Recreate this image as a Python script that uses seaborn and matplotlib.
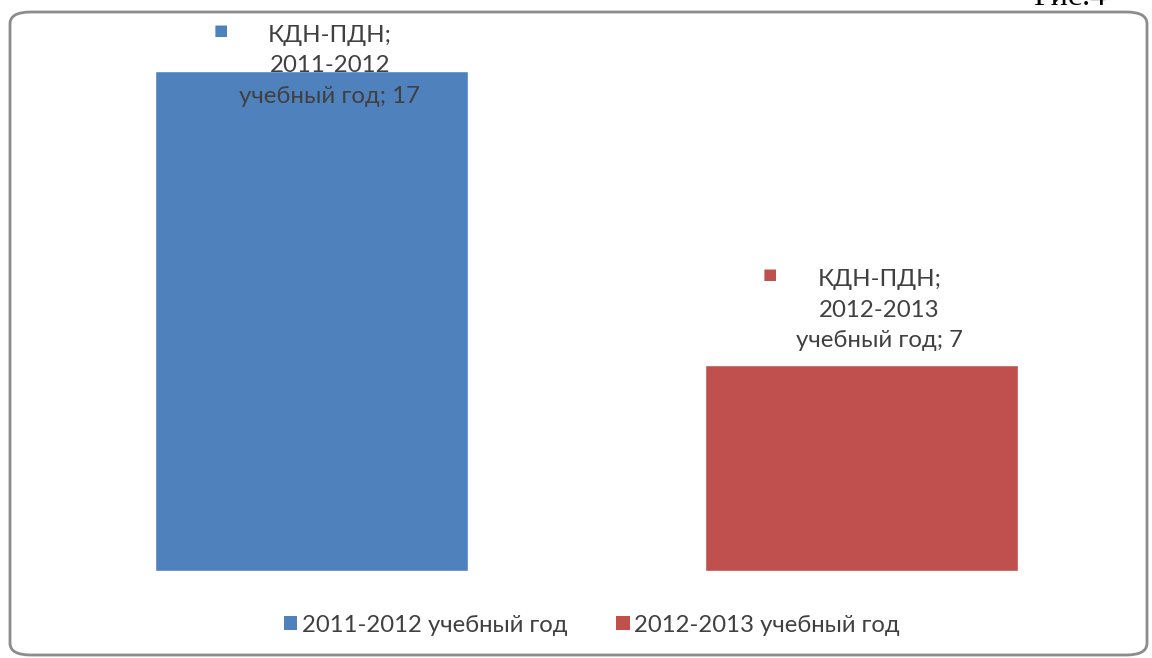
import matplotlib
matplotlib.use("Agg")
import matplotlib.pyplot as plt
import seaborn as sns
import pandas as pd
from matplotlib.patches import FancyBboxPatch, Patch

# Data
series_name = "КДН-ПДН"
categories = ["2011-2012 учебный год", "2012-2013 учебный год"]
values = [17, 7]
colors = ["#4F81BD", "#C0504D"]

df = pd.DataFrame({"year": categories, "value": values})

sns.set_theme(style="white")
plt.rcParams["font.family"] = ["Lato", "DejaVu Sans"]

W, H = 1152, 658
fig = plt.figure(figsize=(W / 100, H / 100), dpi=100)
fig.patch.set_facecolor("white")

# rounded chart frame
frame = FancyBboxPatch((10 / W, 1 - 655 / H), 1137 / W, 643 / H,
                       boxstyle="round,pad=0,rounding_size=0.018",
                       transform=fig.transFigure, facecolor="none",
                       edgecolor="#8c8c8c", linewidth=2, zorder=-1)
fig.patches.append(frame)

ax = fig.add_axes([37 / W, 1 - 571 / H, 1099 / W, 500 / H])
ax.set_facecolor("none")
sns.barplot(data=df, x="year", y="value", hue="year", palette=colors,
            width=0.57, dodge=False, legend=False, saturation=1, ax=ax)
ax.set_ylim(0, 17)
ax.set_xlim(-0.5, 1.5)
ax.axis("off")

# data labels with legend keys (offsets in pixels)
label_dy = [5, 55]
for i, (cat, val) in enumerate(zip(categories, values)):
    year = cat.split(" ")[0]
    txt = f"{series_name};\n{year}\nучебный год; {val}"
    ax.annotate(txt, xy=(i, val), xytext=(18, label_dy[i]), textcoords="offset pixels",
                ha="center", va="center", fontsize=17.3, color="#404040",
                linespacing=1.58, annotation_clip=False, zorder=5)
    ax.annotate("■", xy=(i, val), xytext=(-91, label_dy[i] + 35), textcoords="offset pixels",
                ha="center", va="center", fontsize=11, color=colors[i],
                annotation_clip=False, zorder=5)

handles = [Patch(facecolor=c, edgecolor="none") for c in colors]
fig.legend(handles, categories, loc="center", bbox_to_anchor=(592 / W, 1 - 625 / H),
           ncol=2, frameon=False, fontsize=17.2, handlelength=0.55, handleheight=0.55,
           handletextpad=0.2, columnspacing=2.05, labelcolor="#404040")

# figure caption, cut off at the top edge as in the source
fig.text(1106 / W, 1 - 5 / H, "Рис.4", ha="right", va="baseline", fontsize=23,
         family=["Liberation Serif", "DejaVu Serif"], color="black")

fig.savefig("out.png", dpi=100, facecolor="white")
